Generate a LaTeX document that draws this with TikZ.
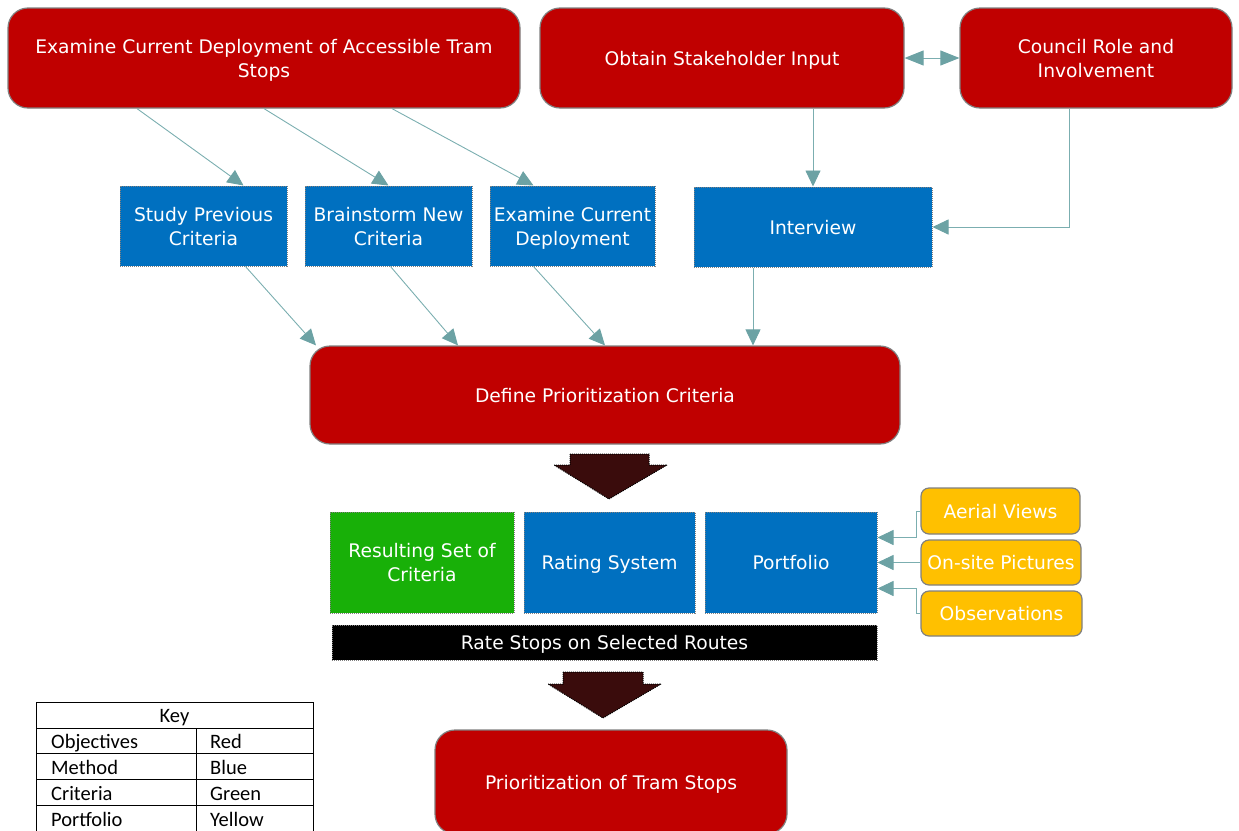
\documentclass[tikz,border=0pt]{standalone}
\usepackage{fontspec}
\setmainfont{DejaVu Sans}
\newfontfamily\keyfont{Carlito}
\usetikzlibrary{arrows.meta}
\definecolor{objred}{HTML}{C00000}
\definecolor{methblue}{HTML}{0070C0}
\definecolor{critgreen}{HTML}{18B008}
\definecolor{portyellow}{HTML}{FFC000}
\definecolor{linkteal}{HTML}{7BAEB0}
\definecolor{headteal}{HTML}{6CA2A4}
\definecolor{bigbrown}{HTML}{3A0C0C}
\tikzset{
  box/.style={draw=gray, text=white, align=center, inner sep=0pt, text depth=-3pt, font=\fontsize{18.7}{24}\selectfont},
  objective/.style={box, fill=objred, line width=1.2pt, rounded corners=20pt},
  method/.style={box, fill=methblue, densely dotted, line width=1pt},
  criteria/.style={box, fill=critgreen, densely dotted, line width=1pt},
  portfolio/.style={box, fill=portyellow, line width=1.2pt, rounded corners=8pt},
  bar/.style={box, fill=black, densely dotted, line width=1pt},
  link/.style={draw=linkteal, line width=0.9pt, -{Triangle[length=16pt,width=15pt,color=headteal]}},
  twolink/.style={draw=linkteal, line width=0.9pt, {Triangle[length=19pt,width=15pt,color=headteal]}-{Triangle[length=19pt,width=15pt,color=headteal]}},
  bigarrow/.style={fill=bigbrown, draw=black, densely dotted, line width=1pt},
  keytext/.style={inner sep=0pt, anchor=base, font=\keyfont\fontsize{20.5}{24}\selectfont},
}
\begin{document}
\begin{tikzpicture}[x=1pt, y=-1pt]
  \clip (0,0) rectangle (1239,830);
  \node[objective, minimum width=512pt, minimum height=100pt] (examine) at (264,58) {Examine Current Deployment of Accessible Tram\\Stops};
  \node[objective, minimum width=364pt, minimum height=100pt] (obtain) at (722,58) {Obtain Stakeholder Input};
  \node[objective, minimum width=272pt, minimum height=100pt] (council) at (1096,58) {Council Role and\\Involvement};
  \node[method, minimum width=167pt, minimum height=80pt] (study) at (203.5,226) {Study Previous\\Criteria};
  \node[method, minimum width=167pt, minimum height=80pt] (brainstorm) at (388.5,226) {Brainstorm New\\Criteria};
  \node[method, minimum width=165pt, minimum height=80pt] (current) at (572.5,226) {Examine Current\\Deployment};
  \node[method, minimum width=238pt, minimum height=80pt] (interview) at (813,227) {Interview};
  \node[objective, minimum width=590pt, minimum height=98pt] (define) at (605,395) {Define Prioritization Criteria};
  \node[criteria, minimum width=184pt, minimum height=101pt] (resulting) at (422,562.5) {Resulting Set of\\Criteria};
  \node[method, minimum width=171pt, minimum height=101pt] (rating) at (609.5,562.5) {Rating System};
  \node[method, minimum width=172pt, minimum height=101pt] (portfolio) at (791,562.5) {Portfolio};
  \node[bar, minimum width=545pt, minimum height=35pt] (rate) at (604.5,642.5) {Rate Stops on Selected Routes};
  \node[portfolio, minimum width=159pt, minimum height=46pt] (aerial) at (1000.5,511) {Aerial Views};
  \node[portfolio, minimum width=160pt, minimum height=45pt] (onsite) at (1001,562.5) {On-site Pictures};
  \node[portfolio, minimum width=161pt, minimum height=45pt] (observe) at (1001.5,613.5) {Observations};
  \node[objective, minimum width=352pt, minimum height=104pt] (final) at (611,782) {Prioritization of Tram Stops};

  \draw[link] ([xshift=-127pt]examine.south) -- ([xshift=40pt]study.north);
  \draw[link] (examine.south) -- (brainstorm.north);
  \draw[link] ([xshift=128pt]examine.south) -- ([xshift=-39pt]current.north);
  \draw[link] (obtain.south -| interview.north) -- (interview.north);
  \draw[link] ([xshift=-27pt]council.south) |- (interview.east);
  \draw[twolink] (obtain.east) -- (council.west);
  \draw[link] ([xshift=42pt]study.south) -- ([xshift=-289pt]define.north);
  \draw[link] ([xshift=2pt]brainstorm.south) -- ([xshift=-147pt]define.north);
  \draw[link] ([xshift=-39pt]current.south) -- (define.north);
  \draw[link] ([xshift=-60pt]interview.south) -- ([xshift=148pt]define.north);
  \draw[link] (aerial.west) -- ++(-4,0) |- ([yshift=25pt]portfolio.east);
  \draw[link] (onsite.west) -- (portfolio.east);
  \draw[link] (observe.west) -- ++(-4,0) |- ([yshift=-26pt]portfolio.east);

  \draw[bigarrow] (570,454) -- (649,454) -- (649,465) -- (667,465) -- (609,499) -- (554,465) -- (570,465) -- cycle;
  \draw[bigarrow] (563,672) -- (643,672) -- (643,684) -- (661,684) -- (603,718) -- (548,684) -- (563,684) -- cycle;

  \draw[line width=1pt] (36,702) rectangle (313,831);
  \draw[line width=1pt] (36,728) -- (313,728) (36,753) -- (313,753) (36,779) -- (313,779) (36,805) -- (313,805);
  \draw[line width=1pt] (196,728) -- (196,831);
  \node[keytext] (key) at (174.5,722) {Key};
  \foreach \what/\col [count=\i] in {Objectives/Red, Method/Blue, Criteria/Green, Portfolio/Yellow} {
    \node[keytext, anchor=base west] (what\i) at (51,722+26*\i) {\what};
    \node[keytext, anchor=base west] (col\i) at (210,722+26*\i) {\col};
  }
\end{tikzpicture}
\end{document}
